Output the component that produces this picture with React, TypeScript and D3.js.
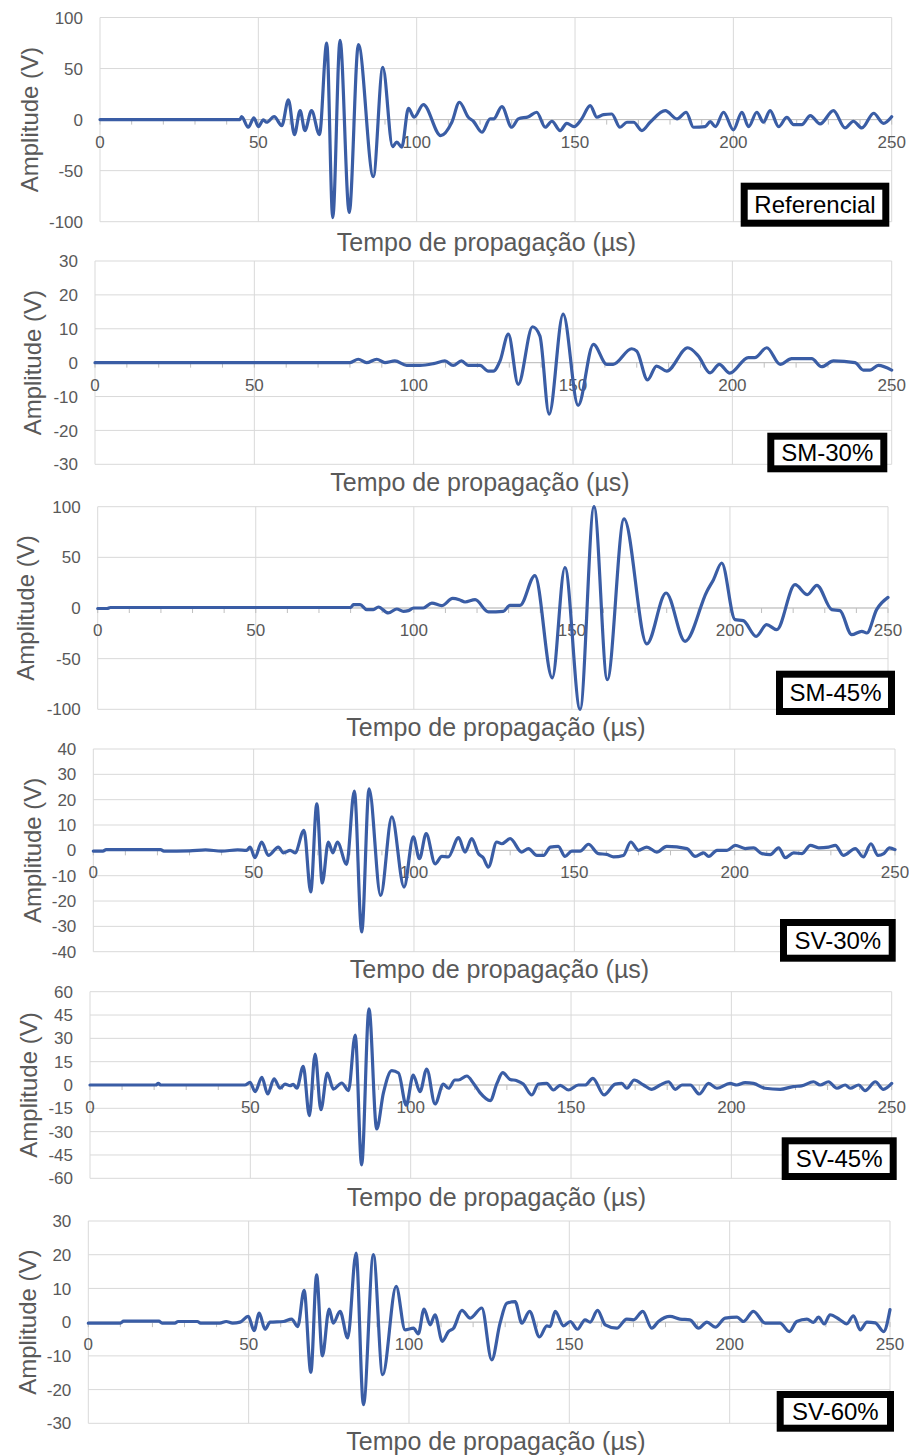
import React from "react";
import * as d3 from "d3";

// ---------- DATA (time µs, amplitude V) ----------
const xTicks = [0, 50, 100, 150, 200, 250];

const referencial: [number, number][] = [
  [0, 0], [44.2, 0], [44.7, 3], [46.8, -7.5], [48.6, 1.6], [50, -6.9], [51.6, -0.3], [52.6, -2.6],
  [55, 2.9], [57.4, -5.9], [59.5, 19.3], [61.4, -14.7], [63.2, 8.8], [64.7, -10.8], [66.8, 8.8],
  [69.3, -14.7], [71.6, 75], [73.5, -96], [75.8, 77.6], [78.7, -91], [81.6, 73.4], [86.3, -55.8],
  [89.3, 51.1], [92.4, -26.4], [93.7, -22], [95.3, -27], [97.4, 11], [99.2, 2.3], [102.1, 14.7],
  [107.6, -15.7], [111.1, -2.6], [113.5, 17], [116.3, 2.3], [117.9, -1.6], [120.6, -12.4],
  [123.2, 0.7], [124.3, 0.7], [126.9, 12.7], [130, -7.5], [132.1, 0.7], [135.3, 2.9], [137.9, 7.2],
  [140.6, -7.5], [142.7, -1.6], [145.3, -10.8], [147.4, -3.6], [149.7, -6.9], [152.1, 0.7],
  [154.8, 13.7], [156.9, 2.3], [159, 4.9], [161.6, 5.5], [164.2, -7.5], [166.4, -2.6], [168.5, -2.6],
  [171.1, -10.8], [173.7, -2.6], [178.5, 8.8], [182.2, 0.7], [185.1, 7.2], [187.4, -7.5],
  [191.1, -6.9], [192.7, -2], [194.3, -6.9], [196.9, 7.2], [200, -10], [202.7, 7.2], [204.8, -6.9],
  [207.4, 7.2], [209.5, -2.6], [211.6, 8.8], [214.3, -6.9], [216.9, 2.3], [219, -4.9], [221.6, -4.9],
  [224.3, 3.9], [227.4, -4.2], [231.6, 8.8], [235.3, -8.2], [237.9, -1.6], [240.6, -8.2],
  [244.3, 6.2], [247.4, -3.6], [250, 2.9],
];

const sm30: [number, number][] = [
  [0, 0], [80, 0], [82.6, 1], [85.2, 0], [88.4, 1], [91, 0], [94.1, 0.5], [97.8, -0.8], [102, -0.8],
  [106.2, -0.3], [109.8, 0.5], [112.4, -0.8], [115, 0.5], [117.1, -0.8], [120.8, -0.8], [123.4, -2.5],
  [125, -2.5], [127.1, 0.5], [129.7, 8.4], [132.8, -6.4], [137.3, 10.6], [139.6, 7.9], [142.5, -15.2],
  [146.9, 14.3], [151.6, -12.6], [156.4, 5.4], [160.6, -0.5], [162.6, -0.5], [168.4, 4.1], [170, 3.4],
  [173.4, -5.1], [176.2, -1], [179.4, -2.5], [186, 4.4], [189.3, 2], [193, -3], [195.9, -0.5],
  [199.2, -3.1], [205, 1.5], [207, 1.5], [210.8, 4.4], [215, -0.5], [218.6, 1.2], [224.9, 1.2],
  [228, -1.2], [231.7, 0.5], [238.5, 0], [241.1, -2.2], [243.2, -2.2], [245.8, -0.8], [250, -2.2],
];

const sm45: [number, number][] = [
  [0, -0.5], [3, -0.5], [4, 0.5], [80, 0.5], [80.9, 3.3], [83, 3.3], [85.1, -1.6], [87.2, -1.6],
  [88.8, 1], [91.9, -4.9], [94.6, -1], [96.7, -3.3], [98.3, -2.6], [99.9, 0], [103, 0], [105.7, 4.9],
  [108.8, 2.3], [112.3, 9.5], [114.4, 8.2], [116.2, 5.9], [119.4, 8.2], [123.6, -3.9], [128.3, -3.3],
  [130.4, 2.6], [133.6, 2.6], [138.3, 32], [143.8, -69], [147.8, 40], [152.6, -100], [157, 100],
  [161.2, -70.7], [166.5, 88], [173.7, -35.5], [179.8, 14.8], [185.8, -32.9], [192.7, 16.4],
  [194.8, 28], [197.4, 44.4], [201.6, -11.5], [204.2, -12.5], [208.3, -28], [211.6, -16.4],
  [214.8, -21.4], [220.6, 23], [224.5, 13.2], [227.5, 22.4], [232.2, -1.6], [234.8, -2.6],
  [238.5, -26.3], [241.7, -23], [243.3, -24.7], [246.4, -1.6], [250, 10.5],
];

const sv30: [number, number][] = [
  [0, -0.3], [3, -0.3], [4, 0.3], [21, 0.3], [22, -0.3], [30, -0.2], [35, 0.2], [40, -0.3], [45, 0.2],
  [47.8, 0], [48.9, 1.3], [50.4, -2.9], [52.5, 3.3], [54.6, -2], [57.7, 1.3], [59.3, -1], [61.4, 0],
  [62.9, -1], [65.7, 7.9], [67.8, -16.4], [69.7, 18.4], [71.4, -12.9], [73.3, 3.3], [74.7, -1],
  [76.1, 3.3], [79, -5.5], [81.4, 23.4], [83.7, -32.2], [86, 24.3], [89.6, -17.8], [93.1, 13.2],
  [96.9, -14.5], [99.8, 5.3], [101.7, -3.3], [103.8, 6.6], [106.6, -5.3], [108.7, -2.4],
  [110.7, -2.6], [113.9, 5], [115.9, -0.7], [118, 4.6], [120.1, -1.3], [121.6, -2.9], [123.2, -6.6],
  [125.8, 3.3], [127.4, 2.6], [130, 4.6], [133.6, -0.7], [135.7, 0.7], [138.3, -2], [140.4, -2],
  [142.5, 1.3], [145, 1.6], [147.1, -2.4], [149.2, -0.3], [151.8, -0.3], [154.4, 2.4], [157.5, -1.3],
  [160.1, -1.6], [162.2, -2.6], [165.3, -2], [167.6, 3.3], [170, 0], [172.6, 1.3], [175.7, -0.7],
  [178.8, 1.6], [185.1, 0.7], [187.7, -2.4], [190.3, -1], [191.9, -2.4], [194.5, 0], [197.6, 0],
  [200.2, 2], [203.3, 0.7], [205.9, 1], [208.5, -1.3], [211.1, -1.7], [213.7, 1], [215.8, -2.9],
  [218.4, -1], [221, -1.3], [223.6, 2], [226.2, 1], [229.3, 1.3], [231.4, 2], [233.9, -2],
  [237.6, 0.7], [240.1, -2.6], [242.5, 2.6], [244.7, -2], [246.5, -1.3], [248.3, 1], [250, 0.3],
];

const sv45: [number, number][] = [
  [0, 0], [20.5, 0], [21.3, 1], [22.1, 0], [48.3, 0], [49.9, 1.7], [51.5, -4.3], [53.6, 4.9],
  [55.4, -5.8], [57.4, 3.9], [59.3, -2.1], [60.8, 0.6], [62.4, -0.4], [63.4, 0.4], [64.5, -2.1],
  [66.5, 12], [68.4, -19.7], [70.2, 19.9], [72, -15.9], [74, 7.7], [75.9, -2.6], [78.5, 1.3],
  [80.6, -3.6], [82.7, 32.1], [84.7, -51.4], [87, 48.9], [89.4, -28.3], [91.5, -5.1], [94.1, 9.2],
  [96.2, 7.7], [98.6, -12.9], [100.8, 6.4], [102.9, -4.3], [105, 10.3], [107.6, -12.2], [110.2, 0.6],
  [111.8, -2.1], [113.8, 3.2], [114.9, 3.2], [117.5, 5.8], [119.6, 1], [121.6, -4.9], [124.8, -10],
  [126.9, 1], [128.7, 7.9], [131, 3.6], [133.1, 2.8], [135.1, 0.6], [137.8, -6.4], [139.8, 0.6],
  [142.4, 1], [144.5, -3.2], [146.6, -0.2], [149.2, -3.2], [152.3, 0], [154.4, 0], [156.8, 4.3],
  [160.3, -6.4], [163.8, 0.6], [165.8, 1], [167.4, -2.1], [169.7, 3.2], [172.6, 0], [175.2, -2.8],
  [177.8, 0], [180.4, 2.1], [182.5, -2.8], [184.6, 0], [187.2, 0], [190, -5.8], [192.9, 1],
  [195.5, -2.1], [199.6, 1], [201.7, 0], [204.3, 1.5], [206.9, 1], [210.5, -2.1], [215.2, -2.8],
  [219.3, -1], [221.9, -0.6], [225.6, 2.1], [227.7, 0], [230.3, 2.1], [232.9, -2.1], [235.5, 0],
  [237.1, -2.1], [239.7, 0], [241.7, -3.6], [244.9, 2.1], [247.4, -2.8], [250, 1],
];

const sv60: [number, number][] = [
  [0, -0.3], [10, -0.3], [11, 0.3], [22, 0.3], [23, -0.3], [27, -0.3], [28, 0.2], [34, 0.2], [35, -0.3],
  [41, -0.3], [43, 0.2], [45, -0.3], [47.3, 0], [49.9, 1.7], [51.7, -2.5], [53.3, 2.7], [55.1, -2.1],
  [56.7, 0], [60.9, 0.2], [63.4, 0.9], [65.3, -1.3], [67.3, 9.4], [69.4, -14.9], [71.2, 14],
  [73, -10], [75.1, 3.9], [76.4, -0.3], [78.5, 3.2], [80.9, -4.7], [83.5, 20.5], [85.8, -24.5],
  [88.9, 20], [91.8, -15.6], [96, 10.6], [98.8, -2.3], [101.4, -1.8], [102.9, -3.5], [104.7, 3.9],
  [106.6, -0.8], [108.1, 2.2], [110.4, -5.7], [112.3, -2.8], [113.9, -1.8], [116.5, 3.5],
  [119.1, 1.2], [122.7, 4.2], [125.8, -11.2], [128.4, -0.3], [130.5, 5.6], [133.1, 6.1],
  [135.2, -0.3], [137.6, 3.2], [140.7, -4.4], [143, -1.1], [144, -1.3], [145.6, 3.2], [148.2, -1.1],
  [150.3, 0.2], [152.5, -2.1], [154.9, 0.7], [156.5, 0], [158.8, 3.5], [161.2, -0.8], [164.8, -1.8],
  [167.9, 0.9], [170, 0.7], [172.9, 3.2], [175.7, -1.8], [177.8, 0.2], [181.4, 1.7], [184.5, 0.9],
  [187.6, 0.7], [190.3, -1.8], [192.9, 0], [195.5, -1.5], [198.6, 1.2], [202.3, 1.5], [204.3, 0.2],
  [207.4, 3.2], [211.1, -0.3], [215.7, -0.3], [218.6, -2.8], [220.9, 0.2], [224.1, 0.9],
  [226.1, -0.1], [227.7, 1.5], [229.5, -0.5], [231.3, 2.2], [234.4, 0.7], [236.5, -0.5],
  [238.6, 1.9], [240.7, -2.3], [242.8, 0], [245.4, -0.2], [248, -2.8], [250, 3.7],
];

const seriesLabels = ["Referencial", "SM-30%", "SM-45%", "SV-30%", "SV-45%", "SV-60%"];
const yMaxes = [100, 30, 100, 40, 60, 30];
const ySteps = [50, 10, 50, 10, 15, 10];
const allSeries = [referencial, sm30, sm45, sv30, sv45, sv60];

// ---------- LAYOUT ----------
const panels = [
  { x0: 100, x1: 891.7, y0: 17.5, y1: 221.7, box: [740.7, 182.7, 889.3, 226.7], yTitleX: 29, xTitle: [486.5, 242] },
  { x0: 95, x1: 891.7, y0: 261, y1: 464.3, box: [767.3, 432.7, 887.3, 472.3], yTitleX: 32, xTitle: [480, 482] },
  { x0: 97.7, x1: 888, y0: 506.7, y1: 709.3, box: [776, 670.7, 895, 715], yTitleX: 25, xTitle: [496, 727] },
  { x0: 93.3, x1: 895, y0: 749, y1: 951.7, box: [780, 919, 895.7, 961.7], yTitleX: 32, xTitle: [499.5, 969] },
  { x0: 90, x1: 891.7, y0: 991.7, y1: 1178.3, box: [781.7, 1137.3, 896.7, 1180], yTitleX: 28, xTitle: [496.5, 1197] },
  { x0: 88.3, x1: 890, y0: 1221, y1: 1423.3, box: [776.7, 1391, 894, 1431.7], yTitleX: 27, xTitle: [496, 1441] },
];

const FONT = "'Liberation Sans', Arial, sans-serif";
const GRID = "#d9d9d9";
const AXIS = "#bfbfbf";
const TXT = "#595959";
const LINE = "#3a5da5";

function Panel({ idx }: { idx: number }) {
  const p = panels[idx];
  const data = allSeries[idx];
  const yMax = yMaxes[idx];
  const step = ySteps[idx];
  const x = d3.scaleLinear().domain([0, 250]).range([p.x0, p.x1]);
  const y = d3.scaleLinear().domain([-yMax, yMax]).range([p.y1, p.y0]);
  const yTicks = d3.range(-yMax, yMax + 1e-9, step);
  const minor = d3.range(0, 251, 10);
  const line = d3
    .line<[number, number]>()
    .x((d) => x(d[0]))
    .y((d) => y(d[1]))
    .curve(d3.curveMonotoneX);
  const [bx0, by0, bx1, by1] = p.box;
  const sw = 7;
  const y0 = y(0);
  const yc = (p.y0 + p.y1) / 2;
  return (
    <g>
      {yTicks.map((t) => (
        <line key={"gy" + t} x1={p.x0} x2={p.x1} y1={y(t)} y2={y(t)} stroke={GRID} strokeWidth={1} />
      ))}
      {xTicks.map((t) => (
        <line key={"gx" + t} x1={x(t)} x2={x(t)} y1={p.y0} y2={p.y1} stroke={GRID} strokeWidth={1} />
      ))}
      <line x1={p.x0} x2={p.x1} y1={y0} y2={y0} stroke={AXIS} strokeWidth={1} />
      {minor.map((t) => (
        <line key={"mt" + t} x1={x(t)} x2={x(t)} y1={y0} y2={y0 + 5} stroke={AXIS} strokeWidth={1} />
      ))}
      {yTicks.map((t) => (
        <text key={"ly" + t} x={p.x0 - 17} y={y(t)} dy="0.36em" textAnchor="end" fontSize={17} fill={TXT} fontFamily={FONT}>
          {t}
        </text>
      ))}
      {xTicks.map((t) => (
        <text key={"lx" + t} x={x(t)} y={y0 + 22} dy="0.36em" textAnchor="middle" fontSize={17} fill={TXT} fontFamily={FONT}>
          {t}
        </text>
      ))}
      <text
        transform={`translate(${p.yTitleX},${yc}) rotate(-90)`}
        dy="0.36em"
        textAnchor="middle"
        fontSize={24}
        fill={TXT}
        fontFamily={FONT}
      >
        Amplitude (V)
      </text>
      <text x={p.xTitle[0]} y={p.xTitle[1]} dy="0.36em" textAnchor="middle" fontSize={25} fill={TXT} fontFamily={FONT}>
        Tempo de propagação (µs)
      </text>
      <path d={line(data) || ""} fill="none" stroke={LINE} strokeWidth={3.2} strokeLinejoin="round" strokeLinecap="round" />
      <rect
        x={bx0 + sw / 2}
        y={by0 + sw / 2}
        width={bx1 - bx0 - sw}
        height={by1 - by0 - sw}
        fill="#fff"
        stroke="#000"
        strokeWidth={sw}
      />
      <text x={(bx0 + bx1) / 2} y={(by0 + by1) / 2} dy="0.36em" textAnchor="middle" fontSize={24} fill="#000" fontFamily={FONT}>
        {seriesLabels[idx]}
      </text>
    </g>
  );
}

export default function App() {
  return (
    <svg
      width={909}
      height={1455}
      viewBox="0 0 909 1455"
      style={{ position: "absolute", left: 0, top: 0, background: "#fff" }}
    >
      <rect x={0} y={0} width={909} height={1455} fill="#fff" />
      {panels.map((_, i) => (
        <Panel key={i} idx={i} />
      ))}
    </svg>
  );
}
